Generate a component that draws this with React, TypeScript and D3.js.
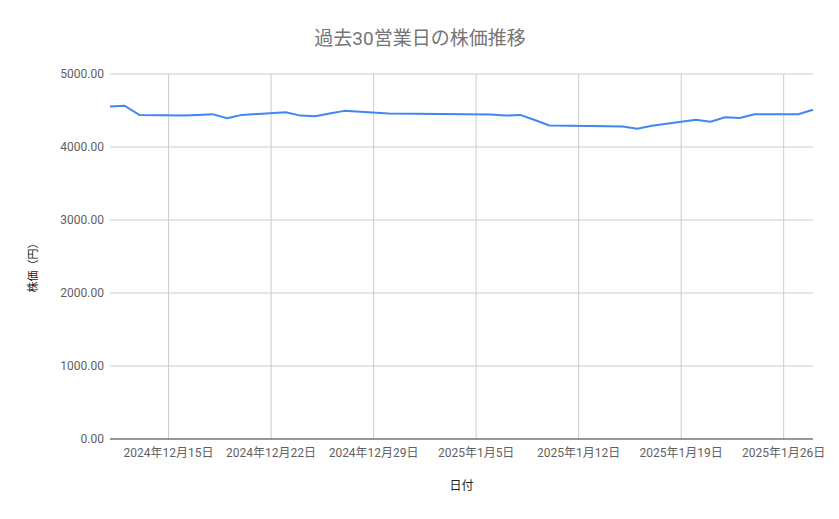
import React from 'react'
import * as d3 from 'd3'

// 過去30営業日の終値（円）
const dates: string[] = [
  '2024-12-11', '2024-12-12', '2024-12-13', '2024-12-16', '2024-12-17',
  '2024-12-18', '2024-12-19', '2024-12-20', '2024-12-23', '2024-12-24',
  '2024-12-25', '2024-12-26', '2024-12-27', '2024-12-30', '2025-01-06',
  '2025-01-07', '2025-01-08', '2025-01-09', '2025-01-10', '2025-01-14',
  '2025-01-15', '2025-01-16', '2025-01-17', '2025-01-20', '2025-01-21',
  '2025-01-22', '2025-01-23', '2025-01-24', '2025-01-27', '2025-01-28'
]
const prices: number[] = [
  4555, 4565, 4440, 4430, 4440,
  4450, 4395, 4440, 4475, 4430,
  4420, 4460, 4495, 4460, 4445,
  4430, 4440, 4370, 4295, 4285,
  4280, 4250, 4292, 4374, 4347,
  4407, 4397, 4448, 4448, 4511
]
const yTicks: number[] = [0, 1000, 2000, 3000, 4000, 5000]
const xTickDates: string[] = [
  '2024-12-15', '2024-12-22', '2024-12-29', '2025-01-05',
  '2025-01-12', '2025-01-19', '2025-01-26'
]

const W = 839
const H = 519
const margin = { top: 74, right: 26, bottom: 80, left: 110 }
const font = "Roboto, 'Noto Sans CJK JP', sans-serif"

const parse = d3.timeParse('%Y-%m-%d')
const fmt = d3.timeFormat('%Y年%-m月%-d日')

const App = () => {
  const data = dates.map((d, i) => ({ date: parse(d) as Date, price: prices[i] }))

  const x = d3.scaleTime()
    .domain([parse('2024-12-11') as Date, parse('2025-01-28') as Date])
    .range([margin.left, W - margin.right])
  const y = d3.scaleLinear()
    .domain([0, 5000])
    .range([H - margin.bottom, margin.top])

  const line = d3.line<{ date: Date; price: number }>()
    .x(d => x(d.date))
    .y(d => y(d.price))

  const xTicks = xTickDates.map(d => parse(d) as Date)
  const [x0, x1] = x.range()
  const [y0, y1] = y.range()

  return (
    <svg
      width={W}
      height={H}
      style={{ position: 'absolute', left: 0, top: 0, background: '#fff' }}
      fontFamily={font}
    >
      <text x={420} y={45} textAnchor='middle' fontSize={19} fill='#757575'>
        過去30営業日の株価推移
      </text>

      {/* grid */}
      {yTicks.filter(t => t > 0).map(t => (
        <line key={`gy${t}`} x1={x0} x2={x1} y1={y(t)} y2={y(t)} stroke='#cccccc' strokeWidth={1} />
      ))}
      {xTicks.map(t => (
        <line key={`gx${+t}`} x1={x(t)} x2={x(t)} y1={y1} y2={y0} stroke='#cccccc' strokeWidth={1} />
      ))}
      <line x1={x0} x2={x1} y1={y(0)} y2={y(0)} stroke='#333333' strokeWidth={1} />

      {/* y tick labels */}
      {yTicks.map(t => (
        <text key={`ly${t}`} x={x0 - 6} y={y(t) + 4} textAnchor='end' fontSize={12} fill='#5f5f5f'>
          {d3.format('.2f')(t)}
        </text>
      ))}

      {/* x tick labels */}
      {xTicks.map(t => (
        <text key={`lx${+t}`} x={x(t)} y={y0 + 18} textAnchor='middle' fontSize={12} fill='#5f5f5f'>
          {fmt(t)}
        </text>
      ))}

      <path d={line(data) ?? ''} fill='none' stroke='#4285f4' strokeWidth={2} strokeLinejoin='round' />

      <text x={(x0 + x1) / 2} y={490} textAnchor='middle' fontSize={12} fill='#222222'>
        日付
      </text>
      <text
        transform={`translate(37, 265) rotate(-90)`}
        textAnchor='middle'
        fontSize={11}
        fill='#222222'
      >
        株価（円）
      </text>
    </svg>
  )
}

export default App
